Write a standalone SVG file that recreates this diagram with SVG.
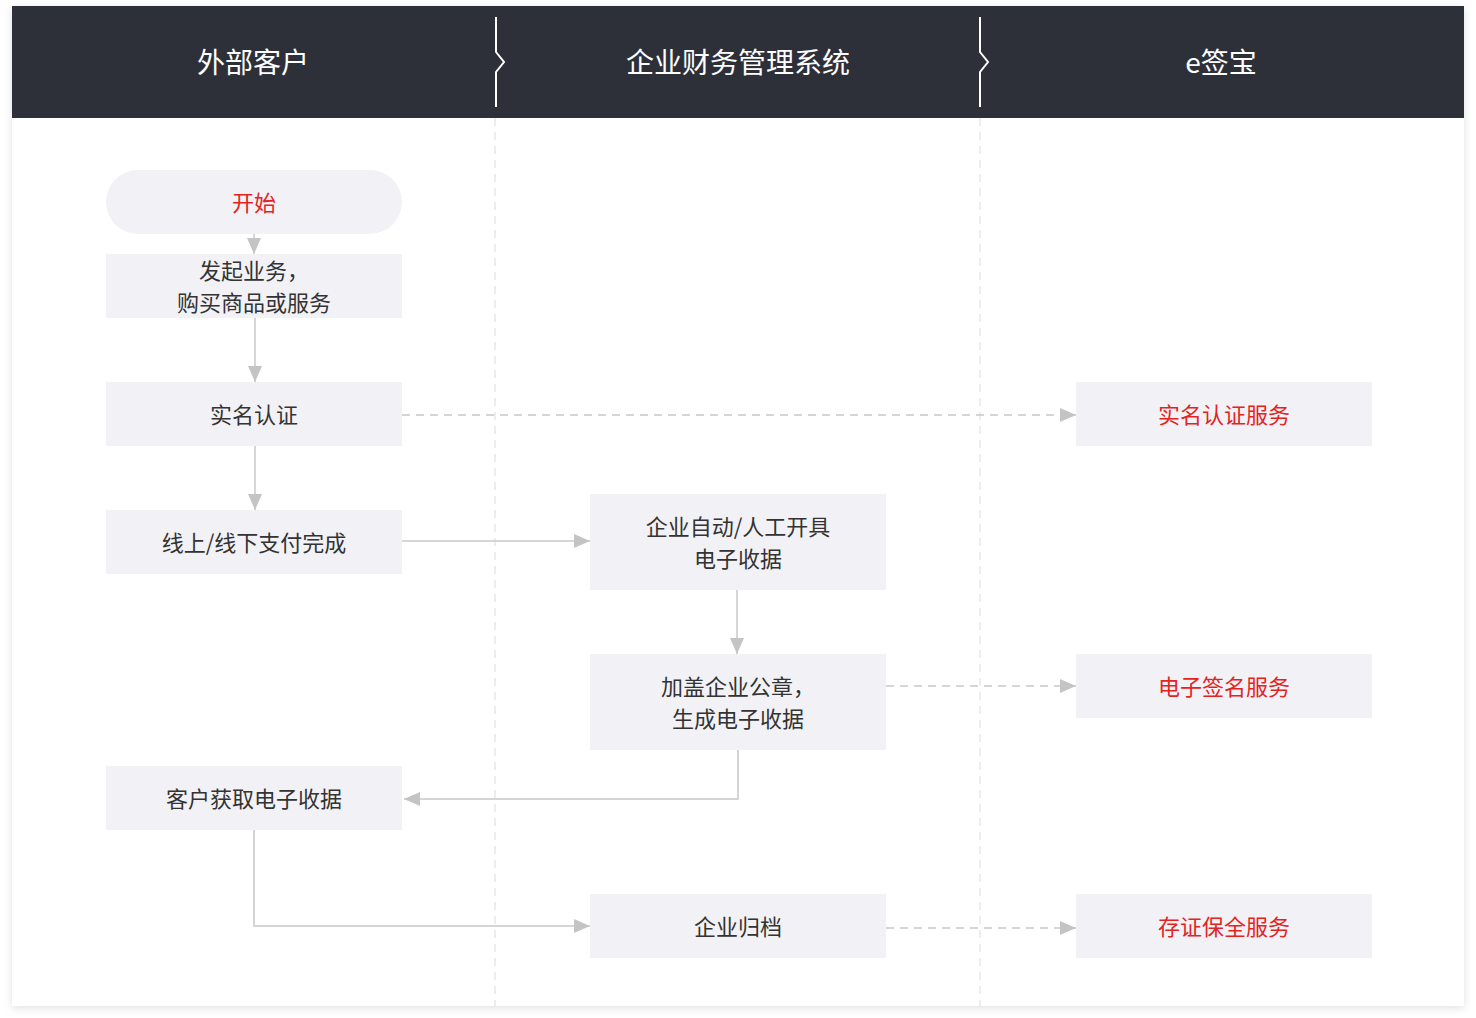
<svg xmlns="http://www.w3.org/2000/svg" width="1476" height="1018" viewBox="0 0 1476 1018">
<style>
.node{fill:#f2f2f6}
.t{font-family:"Noto Sans CJK SC","Noto Sans",sans-serif;font-size:22px;fill:#333;text-anchor:middle;dominant-baseline:central}
.red{fill:#e3231f}
.h{font-family:"Noto Sans CJK SC","Noto Sans",sans-serif;font-size:28px;fill:#fff;text-anchor:middle;dominant-baseline:central}
.c{fill:none;stroke:#c8c8c8;stroke-width:1.5}
.d{stroke-dasharray:8 6}
.lane{stroke:#e8e8e8;stroke-width:1.5;stroke-dasharray:8 6}
</style>
<defs>
<filter id="sh" x="-5%" y="-5%" width="110%" height="110%">
<feDropShadow dx="0" dy="2" stdDeviation="4" flood-color="#000" flood-opacity="0.12"/>
</filter>
<marker id="ah" markerWidth="16" markerHeight="16" viewBox="0 0 16 16" refX="16" refY="8" orient="auto" markerUnits="userSpaceOnUse">
<path d="M0,1 L16,8 L0,15 Z" fill="#c4c4c4"/>
</marker>
</defs>
<rect width="1476" height="1018" fill="#fff"/>
<rect x="12" y="6" width="1452" height="1000" fill="#fff" filter="url(#sh)"/>
<rect x="12" y="6" width="1452" height="112" fill="#2e3039"/>
<g id="header">
<path d="M496,17 V52 L504,62 L496,72 V107" fill="none" stroke="#fff" stroke-width="2"/>
<path d="M980,17 V52 L988,62 L980,72 V107" fill="none" stroke="#fff" stroke-width="2"/>
<text class="h" x="253" y="61">外部客户</text>
<text class="h" x="738" y="61">企业财务管理系统</text>
<text class="h" x="1221" y="61">e签宝</text>
</g>
<g id="lanes">
<line class="lane" x1="495" y1="118" x2="495" y2="1006"/>
<line class="lane" x1="980" y1="118" x2="980" y2="1006"/>
</g>
<g id="connectors">
<path class="c" d="M254,234 V254" marker-end="url(#ah)"/>
<path class="c" d="M255,318 V382" marker-end="url(#ah)"/>
<path class="c" d="M255,446 V510" marker-end="url(#ah)"/>
<path class="c d" d="M402,415 H1076" marker-end="url(#ah)"/>
<path class="c" d="M402,541 H590" marker-end="url(#ah)"/>
<path class="c" d="M737,590 V654" marker-end="url(#ah)"/>
<path class="c d" d="M886,686 H1076" marker-end="url(#ah)"/>
<path class="c" d="M738,750 V799 H404" marker-end="url(#ah)"/>
<path class="c" d="M254,830 V926 H590" marker-end="url(#ah)"/>
<path class="c d" d="M886,928 H1076" marker-end="url(#ah)"/>
</g>
<g id="n-start"><rect class="node" x="106" y="170" width="296" height="64" rx="32"/><text class="t red" x="254" y="201">开始</text></g>
<g id="n-init"><rect class="node" x="106" y="254" width="296" height="64"/><text class="t" x="254" y="269">发起业务，</text><text class="t" x="254" y="301">购买商品或服务</text></g>
<g id="n-auth"><rect class="node" x="106" y="382" width="296" height="64"/><text class="t" x="254" y="413">实名认证</text></g>
<g id="n-pay"><rect class="node" x="106" y="510" width="296" height="64"/><text class="t" x="254" y="541">线上/线下支付完成</text></g>
<g id="n-issue"><rect class="node" x="590" y="494" width="296" height="96"/><text class="t" x="738" y="525">企业自动/人工开具</text><text class="t" x="738" y="557">电子收据</text></g>
<g id="n-seal"><rect class="node" x="590" y="654" width="296" height="96"/><text class="t" x="738" y="685">加盖企业公章，</text><text class="t" x="738" y="717">生成电子收据</text></g>
<g id="n-get"><rect class="node" x="106" y="766" width="296" height="64"/><text class="t" x="254" y="797">客户获取电子收据</text></g>
<g id="n-archive"><rect class="node" x="590" y="894" width="296" height="64"/><text class="t" x="738" y="925">企业归档</text></g>
<g id="n-authsvc"><rect class="node" x="1076" y="382" width="296" height="64"/><text class="t red" x="1224" y="413">实名认证服务</text></g>
<g id="n-signsvc"><rect class="node" x="1076" y="654" width="296" height="64"/><text class="t red" x="1224" y="685">电子签名服务</text></g>
<g id="n-evsvc"><rect class="node" x="1076" y="894" width="296" height="64"/><text class="t red" x="1224" y="925">存证保全服务</text></g>
</svg>
